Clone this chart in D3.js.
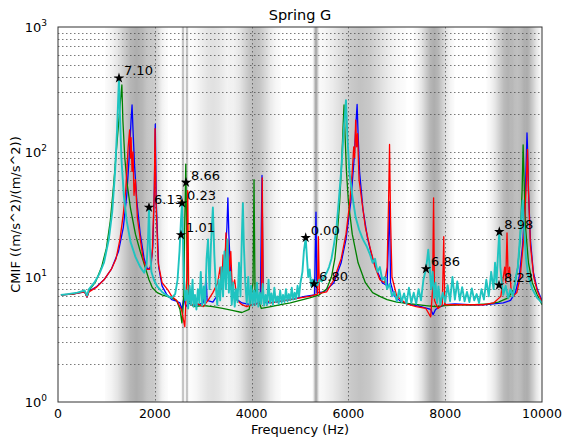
<!DOCTYPE html>
<html>
<head>
<meta charset="utf-8">
<script src="https://cdn.jsdelivr.net/npm/d3@7"></script>
<style>
  body { margin: 0; background: #fff; }
  text { font-family: "DejaVu Sans", sans-serif; fill: #000; }
</style>
</head>
<body>
<div id="chart"></div>
<script>
// shaded frequency zones (Hz): center, half width, darkness
const bandCenter = [1620, 2000, 2583, 2665, 3200, 4060, 5330, 6250, 7770, 9300, 9690];
const bandWidth  = [260, 80, 16, 16, 220, 220, 30, 380, 170, 180, 130];
const bandDepth  = [0.32, 0.10, 0.28, 0.28, 0.12, 0.26, 0.34, 0.24, 0.32, 0.30, 0.30];

const xTicks = [0, 2000, 4000, 6000, 8000, 10000];
const yTicks = [1, 10, 100, 1000];

// CMIF curves [Hz, value]
const blue = [[60,7.2],[300,7.3],[550,7.6],[600,6.9],[640,7.7],[800,8.4],[950,9.5],[1100,11.5],[1250,16],[1350,25],[1420,45],[1470,90],[1510,180],[1530,238],[1550,150],[1580,80],[1630,40],[1700,22],[1780,14],[1850,11.5],[1920,12],[1960,18],[1990,50],[2010,167],[2030,40],[2080,12],[2150,8.5],[2250,7.2],[2350,6.6],[2450,6.4],[2520,6.2],[2560,5.5],[2600,6.8],[2640,5.8],[2700,6.2],[2800,5.9],[2900,6.0],[3000,6.2],[3040,8],[3060,10.4],[3080,6.5],[3200,6.3],[3300,7.2],[3400,9],[3450,14],[3490,25],[3510,43],[3530,22],[3560,12],[3600,8],[3700,6.6],[3800,6.2],[3900,6.1],[4000,6.0],[4100,6.1],[4180,6.5],[4215,65],[4240,7],[4300,6.2],[4500,6.3],[4700,6.5],[4900,6.7],[5100,7.0],[5300,7.2],[5330,33],[5350,7.5],[5500,7.6],[5700,9],[5850,13],[5950,20],[6050,40],[6120,90],[6160,180],[6180,240],[6200,140],[6230,70],[6300,35],[6400,20],[6500,14],[6600,11],[6700,9],[6800,8.5],[6850,40],[6870,9],[6950,7],[7100,6.3],[7300,6.0],[7500,5.8],[7700,5.5],[7750,5.0],[7800,5.5],[7900,5.8],[8000,6.0],[8200,6.1],[8500,6.0],[8800,6.0],[9000,6.1],[9200,6.2],[9350,6.5],[9450,7.5],[9530,10],[9600,18],[9650,40],[9680,100],[9690,142],[9700,110],[9720,50],[9760,20],[9820,11],[9900,8],[10000,6.5]];

const green = [[60,7.2],[300,7.3],[550,7.7],[600,7.0],[640,7.8],[780,9.2],[900,12],[1000,17],[1080,28],[1150,55],[1220,120],[1280,230],[1320,344],[1340,180],[1380,90],[1430,55],[1500,35],[1600,22],[1700,16],[1800,12],[1880,9.5],[1950,8.2],[2050,7.5],[2150,7.2],[2250,7.0],[2350,6.8],[2450,6.5],[2520,5.5],[2560,4.3],[2600,7],[2620,30],[2640,80],[2660,20],[2700,6.5],[2800,5.8],[3000,5.9],[3200,5.8],[3400,5.6],[3600,5.4],[3800,5.2],[3950,5.5],[4030,9],[4050,60],[4070,8],[4200,5.6],[4400,5.8],[4600,6.0],[4800,6.2],[5000,6.5],[5200,6.8],[5400,7.2],[5550,8.0],[5650,10],[5720,14],[5770,22],[5820,40],[5860,80],[5890,160],[5910,238],[5930,140],[5960,70],[6000,40],[6080,22],[6200,13],[6350,9],[6500,7.5],[6650,7.0],[6800,6.6],[7000,6.3],[7300,6.1],[7600,5.9],[7800,5.8],[8000,5.9],[8300,6.0],[8600,6.0],[8900,6.1],[9100,6.3],[9300,6.8],[9420,8],[9500,12],[9550,20],[9590,50],[9610,114],[9630,60],[9660,25],[9720,13],[9800,9],[9900,7.2],[10000,6.0]];

const red = [[60,7.2],[300,7.3],[550,7.6],[600,6.9],[640,7.6],[800,8.3],[950,9.5],[1100,11.5],[1200,14],[1280,20],[1350,32],[1400,50],[1430,80],[1450,110],[1480,150],[1495,90],[1510,130],[1530,70],[1550,100],[1570,45],[1600,60],[1640,30],[1700,20],[1760,14],[1830,11.5],[1900,11.5],[1950,16],[1990,50],[2005,154],[2025,40],[2070,13],[2150,9],[2270,7.9],[2350,7.0],[2450,6.5],[2550,5.5],[2620,4.0],[2660,10],[2680,49],[2700,8],[2750,6.0],[2900,6.1],[3000,5.8],[3100,6.5],[3200,7.5],[3300,9],[3350,12],[3380,8],[3410,15],[3440,10],[3470,22.5],[3490,12],[3510,20],[3540,11],[3570,16],[3600,8],[3650,9.5],[3700,6.5],[3800,6.0],[3900,5.8],[4000,6.0],[4100,6.1],[4200,6.4],[4220,62],[4240,6.8],[4400,6.2],[4600,6.4],[4800,6.6],[5000,6.8],[5200,7.0],[5360,7.3],[5380,21],[5400,7.4],[5550,7.6],[5700,9.5],[5850,14],[5950,22],[6030,40],[6080,70],[6110,110],[6130,90],[6150,180],[6170,110],[6190,140],[6220,60],[6280,40],[6350,25],[6450,17],[6550,12],[6650,9.5],[6750,9],[6800,12],[6830,40],[6850,115],[6870,30],[6900,10],[7000,7],[7200,6.1],[7400,5.8],[7600,5.6],[7700,4.8],[7740,8],[7760,43],[7780,6.5],[7850,5.6],[7940,6],[7970,21],[7990,6],[8200,6.0],[8500,6.0],[8800,6.0],[9000,6.2],[9150,7],[9200,10],[9230,12],[9250,9],[9277,22.5],[9300,10],[9330,12],[9360,8],[9400,7],[9480,7.5],[9550,10],[9620,20],[9670,50],[9700,105],[9720,50],[9760,18],[9830,10],[9900,7.8],[10000,6.3]];

const cyan = [[60,7.2],[200,7.3],[400,7.5],[550,7.8],[600,7.1],[640,8.0],[750,9.0],[850,10.5],[950,13],[1050,20],[1120,33],[1180,70],[1220,150],[1260,390],[1280,200],[1310,90],[1360,45],[1420,28],[1500,19],[1600,14.5],[1700,12],[1780,10.8],[1830,12.5],[1860,20],[1880,36],[1900,17],[1930,11],[1980,9.5],[2050,8.4],[2150,7.6],[2250,7.1],[2350,6.8],[2420,7.3],[2470,9.5],[2510,16],[2540,28],[2562,39],[2585,18],[2600,10],
  [2630,6.5],[2660,7.8],[2690,5.6],[2720,8.5],[2750,6.0],[2780,9.5],[2800,5.8],[2830,7.2],[2860,5.5],[2890,8.0],[2920,6.2],[2950,11],[2980,5.9],[3010,8.4],[3040,6.1],[3070,14],[3100,20],[3130,8],[3160,18],[3200,36],[3230,15],[3260,8.5],[3290,6.0],[3320,9.5],[3350,6.5],[3380,12],[3410,7],[3440,16],[3470,8],[3500,20],[3530,7.5],[3560,11],[3590,6],[3620,9],[3650,5.8],[3680,8],[3710,6.3],[3740,13],[3770,7],[3800,22],[3820,39],[3840,18],[3870,9],[3900,6.2],[3930,10],[3960,6],[3990,8.5],[4020,5.9],[4050,7.8],[4080,6.0],[4110,9],[4140,5.8],[4170,7.5],[4200,6.1],[4230,8.8],[4260,5.9],[4290,7.2],[4320,6.0],[4350,9.5],[4380,6.2],[4410,7.4],[4440,6.0],[4470,8.2],[4500,6.3],[4530,7.0],[4560,6.1],[4590,7.8],[4620,6.2],[4650,7.2],[4680,6.3],[4710,8.0],[4740,6.4],[4770,7.3],[4800,6.5],[4830,8.2],[4860,6.6],[4890,7.5],[4920,6.7],[4950,8.5],[4980,7.0],
  [5010,9],[5050,11],[5080,16],[5118,20.6],[5140,15],[5170,10],[5200,11.5],[5230,8.5],[5260,9.5],[5289,8.8],[5320,9.2],[5360,8.6],[5400,9.5],[5450,9.2],[5500,10],[5550,10.8],[5600,12],[5650,14],[5700,18],[5750,24],[5800,40],[5850,70],[5900,140],[5950,260],[5980,130],[6020,70],[6080,45],[6150,30],[6220,24],[6300,20],[6380,17.5],[6450,15],[6500,13],[6550,14],[6600,11],[6650,12],[6700,9.5],[6750,10],[6800,8],[6850,8.8],[6900,7],
  [6950,7.6],[7000,6.4],[7050,7.9],[7100,6.3],[7150,7.4],[7200,6.1],[7250,8.2],[7300,6.2],[7350,7.5],[7400,6.1],[7450,8.0],[7500,6.5],[7550,9.5],[7603,11.6],[7630,14],[7650,16.5],[7680,12],[7710,8],[7740,11],[7770,6.8],[7800,9],[7830,6.2],[7860,8.4],[7900,6],[7950,7.5],[8000,6.3],[8050,8.6],[8100,6.4],[8150,10],[8200,6.6],[8250,9.2],[8300,6.5],[8350,8.3],[8400,6.4],[8450,7.6],[8500,6.3],[8550,8.1],[8600,6.5],[8650,7.3],[8700,6.2],[8750,8.0],[8800,6.6],[8850,9.5],[8900,7],[8950,11],[9000,8],[9030,13],[9060,9],[9090,15],[9118,23],[9140,12],[9170,9],[9200,7.2],[9250,8.5],[9300,6.8],[9350,8],[9400,7],[9450,9.5],[9500,12],[9550,22],[9600,41],[9630,25],[9670,14],[9720,10],[9800,8],[9900,6.8],[10000,6.2]];

// marked modes: [Hz, value, label]
const marks = [[1260,390,"7.10"],[1880,36,"6.13"],[2562,39,"0.23"],[2645,57,"8.66"],[2541,21.7,"1.01"],[5118,20.6,"0.00"],[5289,8.8,"6.80"],[7603,11.6,"6.86"],[9118,23,"8.98"],[9112,8.6,"8.23"]];

const series = [
  {data: blue, color: "#0000ff", w: 1.3},
  {data: green, color: "#008000", w: 1.3},
  {data: red, color: "#ff0000", w: 1.3},
  {data: cyan, color: "#1fc4c0", w: 1.9}
];

const W = 563, H = 441;
const margin = {top: 27, right: 21, bottom: 39, left: 58};
const width = W - margin.left - margin.right;
const height = H - margin.top - margin.bottom;

const svg = d3.select("#chart").append("svg")
    .attr("width", W).attr("height", H);
const defs = svg.append("defs");
const g = svg.append("g")
    .attr("transform", "translate(" + margin.left + "," + margin.top + ")");

const x = d3.scaleLinear().domain([0, 10000]).range([0, width]);
const y = d3.scaleLog().domain([1, 1000]).range([height, 0]);

defs.append("clipPath").attr("id", "plotclip")
  .append("rect").attr("width", width).attr("height", height);

// grey bands
const bands = g.append("g").attr("clip-path", "url(#plotclip)");
bandCenter.forEach((c, i) => {
    const hw = bandWidth[i];
    const grad = defs.append("linearGradient").attr("id", "band" + i);
    d3.range(0, 1.0001, 0.1).forEach(t => {
        const u = (t - 0.5) * 5;  // -2.5..2.5 sigma
        grad.append("stop").attr("offset", t)
            .attr("stop-color", "#000")
            .attr("stop-opacity", bandDepth[i] * Math.exp(-u * u / 2));
    });
    const x0 = x(c - 2.5 * hw), x1 = x(c + 2.5 * hw);
    bands.append("rect")
        .attr("x", x0).attr("y", 0)
        .attr("width", Math.max(1, x1 - x0)).attr("height", height)
        .attr("fill", "url(#band" + i + ")");
});

// grid
const minor = [];
for (let d = 1; d < 1000; d *= 10) for (let k = 2; k <= 9; k++) minor.push(d * k);
g.append("g").selectAll("line").data(minor.concat([10, 100])).enter().append("line")
    .attr("x1", 0).attr("x2", width)
    .attr("y1", d => Math.round(y(d)) + 0.5).attr("y2", d => Math.round(y(d)) + 0.5)
    .attr("stroke", "#444").attr("stroke-width", 1)
    .attr("stroke-dasharray", "1.5,2.5").attr("opacity", 0.7);
g.append("g").selectAll("line").data(xTicks.slice(1, -1)).enter().append("line")
    .attr("x1", d => Math.round(x(d)) + 0.5).attr("x2", d => Math.round(x(d)) + 0.5)
    .attr("y1", 0).attr("y2", height)
    .attr("stroke", "#444").attr("stroke-width", 1)
    .attr("stroke-dasharray", "1.5,2.5").attr("opacity", 0.7);

// curves
const line = d3.line().x(d => x(d[0])).y(d => y(d[1]));
const curves = g.append("g").attr("clip-path", "url(#plotclip)");
series.forEach(s => {
    curves.append("path")
        .attr("d", line(s.data))
        .attr("fill", "none")
        .attr("stroke", s.color)
        .attr("stroke-width", s.w)
        .attr("stroke-linejoin", "round");
});

// stars and labels
const star = d3.symbol().type(d3.symbolStar).size(34);
g.selectAll(".mark").data(marks).enter().append("path")
    .attr("class", "mark")
    .attr("d", star)
    .attr("transform", d => "translate(" + x(d[0]) + "," + y(d[1]) + ")")
    .attr("fill", "#000");
g.selectAll(".mlabel").data(marks).enter().append("text")
    .attr("class", "mlabel")
    .attr("x", d => x(d[0]) + 5)
    .attr("y", d => y(d[1]) - 3)
    .style("font-size", "13px")
    .text(d => d[2]);

// frame
g.append("rect").attr("width", width).attr("height", height)
    .attr("fill", "none").attr("stroke", "#333").attr("stroke-width", 1);

// x tick labels
g.append("g").selectAll("text").data(xTicks).enter().append("text")
    .attr("x", d => x(d)).attr("y", height + 16)
    .attr("text-anchor", "middle")
    .style("font-size", "12.5px")
    .text(d => d);

// y tick labels 10^n
const yl = g.append("g").selectAll("text").data(yTicks).enter().append("text")
    .attr("x", -11).attr("y", d => y(d) + 5)
    .attr("text-anchor", "end")
    .style("font-size", "13px");
yl.append("tspan").text("10");
yl.append("tspan").attr("dy", -6).style("font-size", "9px").text(d => Math.round(Math.log10(d)));

// titles
svg.append("text").attr("x", margin.left + width / 2).attr("y", 20)
    .attr("text-anchor", "middle").style("font-size", "14.5px").text("Spring G");
svg.append("text").attr("x", margin.left + width / 2).attr("y", 434)
    .attr("text-anchor", "middle").style("font-size", "13px").text("Frequency (Hz)");
svg.append("text")
    .attr("transform", "translate(20," + (margin.top + height / 2) + ") rotate(-90)")
    .attr("text-anchor", "middle").style("font-size", "13px")
    .text("CMIF ((m/s^2)/(m/s^2))");
</script>
</body>
</html>
